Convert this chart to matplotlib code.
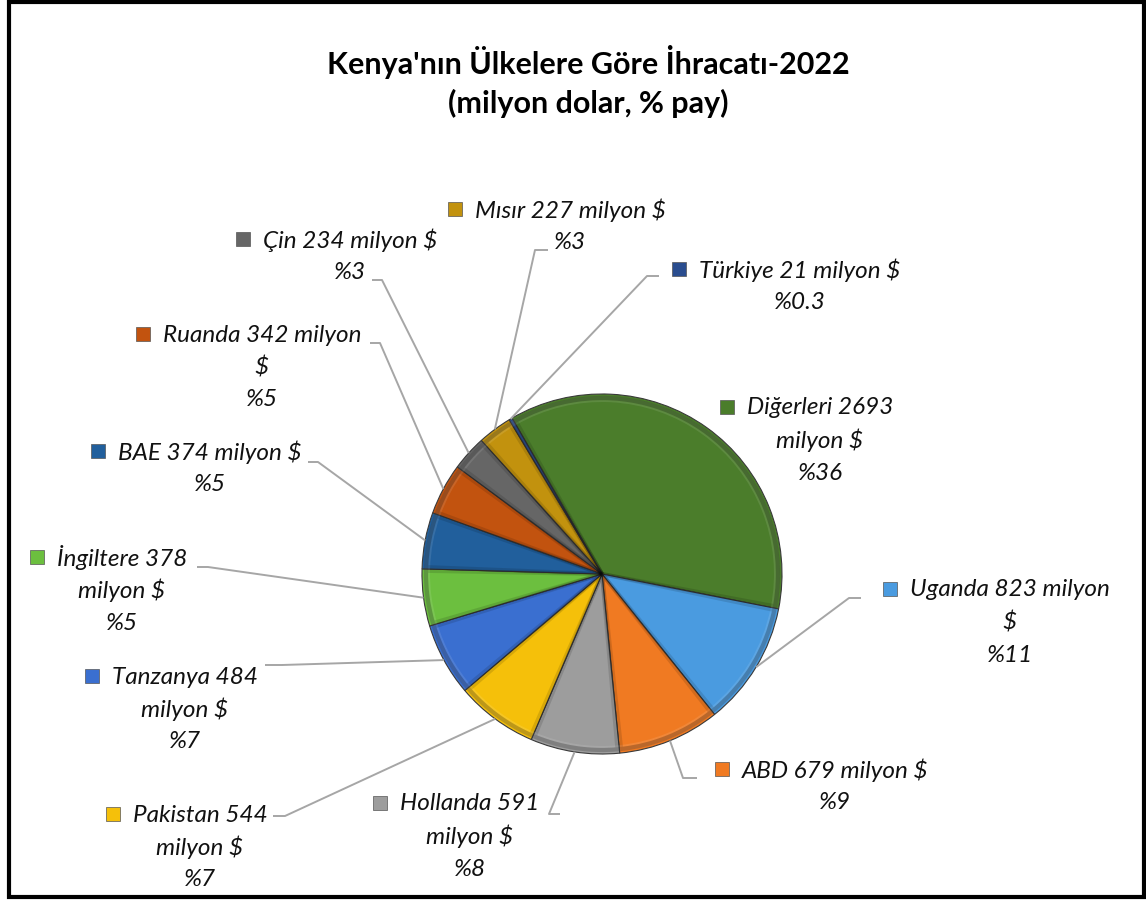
import matplotlib.pyplot as plt
from matplotlib.patches import Rectangle, Wedge
import numpy as np

# --- data ---
countries = ["Diğerleri", "Uganda", "ABD", "Hollanda", "Pakistan", "Tanzanya",
             "İngiltere", "BAE", "Ruanda", "Çin", "Mısır", "Türkiye"]
values = [2693, 823, 679, 591, 544, 484, 378, 374, 342, 234, 227, 21]
shares = ["%36", "%11", "%9", "%8", "%7", "%7", "%5", "%5", "%5", "%3", "%3", "%0.3"]
label_lines = [
    ["Diğerleri 2693", "milyon $", "%36"],
    ["Uganda 823 milyon", "$", "%11"],
    ["ABD 679 milyon $", "%9"],
    ["Hollanda 591", "milyon $", "%8"],
    ["Pakistan 544", "milyon $", "%7"],
    ["Tanzanya 484", "milyon $", "%7"],
    ["İngiltere 378", "milyon $", "%5"],
    ["BAE 374 milyon $", "%5"],
    ["Ruanda 342 milyon", "$", "%5"],
    ["Çin 234 milyon $", "%3"],
    ["Mısır 227 milyon $", "%3"],
    ["Türkiye 21 milyon $", "%0.3"],
]
colors = ["#4b7d2b", "#4a9be0", "#f07a22", "#9d9d9d", "#f5c00a", "#3a6fd0",
          "#6cbf3f", "#215f9c", "#c2530f", "#666666", "#c2920e", "#2a4d8f"]

# --- layout (image pixel coords, y down) ---
W, H = 1146, 900
CX, CY, R = 602, 574, 180
# center x / first line y of each label
label_pos = [(820, 408), (1010, 590), (835, 770), (470, 804), (200, 815), (185, 677),
             (122, 558), (210, 452), (262, 335), (350, 240), (570, 210), (800, 270)]
# leader line: (elbow x, elbow y, stub end x) ; None = no line
leaders = [None, (849, 598, 861), (683, 778, 697), (549, 814, 560), (285, 816, 273),
           (282, 665, 265), (208, 567, 197), (318, 462, 308), (380, 343, 370),
           (382, 280, 372), (535, 250, 548), (647, 276, 659)]

FONT = "Lato"
plt.rcParams['font.family'] = [FONT, 'DejaVu Sans']

fig = plt.figure(figsize=(W / 100, H / 100), dpi=100)
ax = fig.add_axes([0, 0, 1, 1])

wedges, _ = ax.pie(values, colors=colors, startangle=120, counterclock=False,
                   center=(CX, H - CY), radius=R, frame=True,
                   wedgeprops=dict(edgecolor="#3a3a3a", linewidth=0.8))

# bevel look: slight highlight near rim + darker radial edges
for w, c in zip(wedges, colors):
    ax.add_patch(Wedge((CX, H - CY), R - 2, w.theta1, w.theta2, width=6,
                       facecolor="white", alpha=0.10, edgecolor="none"))
    ax.add_patch(Wedge((CX, H - CY), R - 4, w.theta1 + 0.6, w.theta2 - 0.6,
                       facecolor="none", edgecolor="black", alpha=0.12, linewidth=3))

# leader lines
for w, ld in zip(wedges, leaders):
    if ld is None:
        continue
    mid = np.deg2rad((w.theta1 + w.theta2) / 2)
    px = CX + R * np.cos(mid)
    py = (H - CY) + R * np.sin(mid)
    ex, ey, sx = ld
    ax.plot([px, ex, sx], [py, H - ey, H - ey], color="#a6a6a6", lw=1.4,
            solid_capstyle="butt", zorder=1)

ax.set_xlim(0, W)
ax.set_ylim(0, H)
ax.set_aspect("equal")
ax.axis("off")

# labels
first_lines = []
for lines, (lx, ly) in zip(label_lines, label_pos):
    for i, s in enumerate(lines):
        t = ax.text(lx, H - (ly + i * 32.5), s, ha="center", va="center",
                    fontsize=17.5, style="italic", color="#111111")
        if i == 0:
            first_lines.append(t)

fig.canvas.draw()
rend = fig.canvas.get_renderer()
for t, c in zip(first_lines, colors):
    bb = t.get_window_extent(rend)
    x0 = bb.x0 - 20
    y0 = (bb.y0 + bb.y1) / 2 + 1
    ax.add_patch(Rectangle((x0 - 7, y0 - 7), 14, 14, facecolor=c,
                           edgecolor="#555555", linewidth=0.5))

# title
fig.text(588 / W, 1 - 62 / H, "Kenya'nın Ülkelere Göre İhracatı-2022",
         ha="center", va="center", fontsize=22, fontweight="bold")
fig.text(588 / W, 1 - 103 / H, "(milyon dolar, % pay)",
         ha="center", va="center", fontsize=22, fontweight="bold")

# frame
fig.patches.append(Rectangle((9 / W, 3 / H), (W - 11) / W, (H - 5) / H,
                             transform=fig.transFigure, fill=False,
                             edgecolor="black", linewidth=3))

fig.savefig("out.png", dpi=100)
